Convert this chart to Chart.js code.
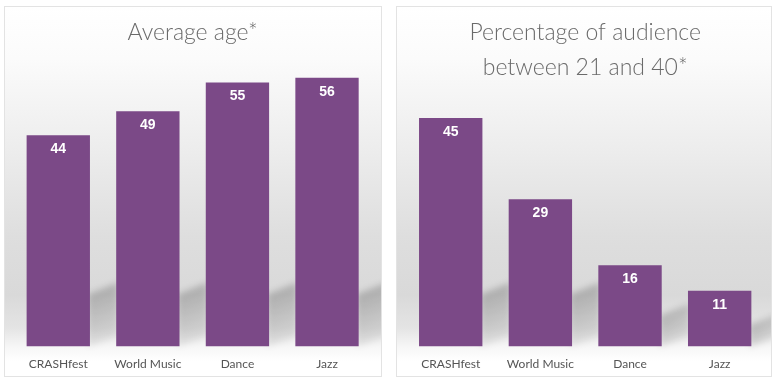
<!DOCTYPE html>
<html><head><meta charset="utf-8">
<script src="https://cdn.jsdelivr.net/npm/chart.js@4"></script>
<style>
html,body{margin:0;padding:0;background:#fff;width:779px;height:382px;overflow:hidden;}
.panel{position:absolute;top:6px;height:369px;border:1px solid #e3e3e3;
background:linear-gradient(to bottom,#ffffff 0%,#fbfbfb 14%,#ededed 38%,#dedede 62%,#d9d9d9 78%,#e4e4e4 87%,#f6f6f6 92%,#ffffff 96%,#ffffff 100%);}
#p1{left:4px;width:376px;}
#p2{left:396px;width:374px;}
canvas{display:block;}
</style></head>
<body>
<div class="panel" id="p1"><canvas id="c1" width="376" height="369"></canvas></div>
<div class="panel" id="p2"><canvas id="c2" width="374" height="369"></canvas></div>
<script>
const categories = ['CRASHfest', 'World Music', 'Dance', 'Jazz'];
const averageAge = [44, 49, 55, 56];
const pctAudience21to40 = [45, 29, 16, 11];
const titleAge = 'Average age*';
const titlePct = ['Percentage of audience', 'between 21 and 40*'];

const BAR_COLOR = '#7b4987';

const shadowPlugin = {
  id: 'barShadow',
  beforeDatasetsDraw(chart) {
    const ctx = chart.ctx;
    const meta = chart.getDatasetMeta(0);
    ctx.save();
    ctx.filter = 'blur(3px)';
    meta.data.forEach(bar => {
      const p = bar.getProps(['x', 'y', 'base', 'width'], true);
      const r = p.x + p.width / 2;
      const h = Math.min((p.base - p.y) * 0.38, 52);
      const g = ctx.createLinearGradient(r, p.base - h, r + 30, p.base);
      g.addColorStop(0, 'rgba(0,0,0,0.20)');
      g.addColorStop(1, 'rgba(0,0,0,0.04)');
      ctx.fillStyle = g;
      ctx.beginPath();
      ctx.moveTo(r - 2, p.base);
      ctx.lineTo(r - 2, p.base - h);
      ctx.lineTo(r + 28, p.base - h - 12);
      ctx.lineTo(r + 28, p.base - 10);
      ctx.closePath();
      ctx.fill();
    });
    ctx.restore();
  }
};

const valuePlugin = {
  id: 'valueLabels',
  afterDatasetsDraw(chart) {
    const ctx = chart.ctx;
    const ds = chart.data.datasets[0];
    const meta = chart.getDatasetMeta(0);
    ctx.save();
    ctx.font = 'bold 14px "Liberation Sans", Arial, sans-serif';
    ctx.fillStyle = '#ffffff';
    ctx.textAlign = 'center';
    ctx.textBaseline = 'middle';
    meta.data.forEach((bar, i) => {
      ctx.fillText(String(ds.data[i]), bar.x, bar.y + 14);
    });
    ctx.restore();
  }
};

function makeChart(id, values, title, yMax, padTop, padBottom, padL, padR) {
  return new Chart(document.getElementById(id), {
    type: 'bar',
    data: {
      labels: categories,
      datasets: [{ data: values, backgroundColor: BAR_COLOR, borderWidth: 0,
        categoryPercentage: 1, barPercentage: 0.707 }]
    },
    options: {
      responsive: false,
      animation: false,
      events: [],
      layout: { padding: { left: padL, right: padR, top: 0, bottom: -5 } },
      plugins: {
        legend: { display: false },
        tooltip: { enabled: false },
        title: {
          display: true, text: title, color: '#6a6a6a',
          font: { family: 'Lato, "Open Sans", sans-serif', size: 23, weight: 300, lineHeight: 1.5 },
          padding: { top: padTop, bottom: padBottom }
        }
      },
      scales: {
        x: {
          grid: { display: false, drawTicks: false }, border: { display: false },
          ticks: { color: '#555555', padding: 10, font: { family: 'Lato, "Open Sans", sans-serif', size: 12 } }
        },
        y: { display: false, min: 0, max: yMax }
      }
    },
    plugins: [shadowPlugin, valuePlugin]
  });
}

makeChart('c1', averageAge, titleAge, 60, 8.5, 8.5, 8.5, 9.2);
makeChart('c2', pctAudience21to40, titlePct, 50, 8.5, 8.2, 8.9, 6.5);
</script>
</body></html>
